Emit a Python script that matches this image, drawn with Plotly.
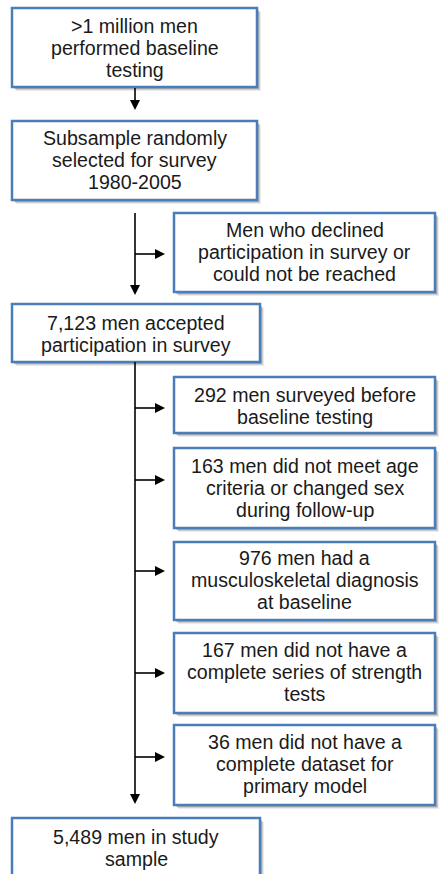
import plotly.graph_objects as go

# ---- content (data) ----
box_texts = [
    [">1 million men", "performed baseline", "testing"],
    ["Subsample randomly", "selected for survey", "1980-2005"],
    ["Men who declined", "participation in survey or", "could not be reached"],
    ["7,123 men accepted", "participation in survey"],
    ["292 men surveyed before", "baseline testing"],
    ["163 men did not meet age", "criteria or changed sex", "during follow-up"],
    ["976 men had a", "musculoskeletal diagnosis", "at baseline"],
    ["167 men did not have a", "complete series of strength", "tests"],
    ["36 men did not have a", "complete dataset for", "primary model"],
    ["5,489 men in study", "sample"],
]

# ---- layout (pixel positions: x0, x1, y0, y1) ----
box_x0 = [12, 12, 174, 12, 174, 174, 174, 174, 174, 12]
box_x1 = [257, 257, 435, 260, 435, 435, 435, 435, 435, 260]
box_y0 = [8, 121, 213, 304, 377, 448, 542, 633, 725, 818]
box_y1 = [87, 200, 292, 362, 433, 528, 620, 713, 805, 884]
text_center = [48, 160, 252, 334, 406, 488, 580, 672, 764, 848]

# vertical arrows: x, y_start, y_tip
v_arrows = [(135, 88, 110), (135, 213, 295), (135, 362, 804)]
# horizontal side arrows: y, x_start, x_tip
h_arrows = [(254, 135, 165), (408, 135, 165), (480, 135, 165),
            (571, 135, 165), (673, 135, 165), (757, 135, 165)]

LINE_SP = 21.8
FONT = dict(family="Liberation Sans, Arial, sans-serif", size=19.6, color="#1a1a1a")
BLUE = "#4a7ebb"

shapes = []
annotations = []

for i, lines in enumerate(box_texts):
    x0, x1, y0, y1 = box_x0[i], box_x1[i], box_y0[i], box_y1[i]
    # soft shadow
    for off, op in [(4, 0.08), (3, 0.12), (2, 0.16)]:
        shapes.append(dict(type="rect", x0=x0 + off, x1=x1 + off, y0=y0 + off, y1=y1 + off,
                           line=dict(width=0), fillcolor=f"rgba(0,0,0,{op})", layer="above"))
    shapes.append(dict(type="rect", x0=x0, x1=x1, y0=y0, y1=y1,
                       line=dict(color=BLUE, width=2.5), fillcolor="white", layer="above"))
    n = len(lines)
    cx = (x0 + x1) / 2
    for j, t in enumerate(lines):
        yy = text_center[i] + (j - (n - 1) / 2) * LINE_SP
        annotations.append(dict(x=cx, y=yy, xref="x", yref="y", text=t, showarrow=False,
                                font=FONT, xanchor="center", yanchor="middle"))

AH_L, AH_W = 10, 5
for x, ys, yt in v_arrows:
    shapes.append(dict(type="line", x0=x, x1=x, y0=ys, y1=yt - AH_L + 1,
                       line=dict(color="black", width=1.6), layer="above"))
    shapes.append(dict(type="path",
                       path=f"M {x - AH_W} {yt - AH_L} L {x + AH_W} {yt - AH_L} L {x} {yt} Z",
                       fillcolor="black", line=dict(width=0), layer="above"))
for y, xs, xt in h_arrows:
    shapes.append(dict(type="line", x0=xs, x1=xt - AH_L + 1, y0=y, y1=y,
                       line=dict(color="black", width=1.6), layer="above"))
    shapes.append(dict(type="path",
                       path=f"M {xt - AH_L} {y - AH_W} L {xt - AH_L} {y + AH_W} L {xt} {y} Z",
                       fillcolor="black", line=dict(width=0), layer="above"))

fig = go.Figure()
fig.add_trace(go.Scatter(x=[0, 439], y=[0, 874], mode="markers",
                         marker=dict(opacity=0), hoverinfo="skip", showlegend=False))
fig.update_layout(
    width=439, height=874,
    margin=dict(l=0, r=0, t=0, b=0),
    paper_bgcolor="white", plot_bgcolor="white",
    xaxis=dict(range=[0, 439], visible=False, fixedrange=True),
    yaxis=dict(range=[874, 0], visible=False, fixedrange=True),
    shapes=shapes, annotations=annotations, showlegend=False,
)
fig.write_html("out.html", config={"displayModeBar": False})

# remove default page margin so the figure sits at the window's top-left corner
with open("out.html", "r", encoding="utf-8") as f:
    html = f.read()
html = html.replace("<body>", '<body style="margin:0;padding:0;overflow:hidden">', 1)
with open("out.html", "w", encoding="utf-8") as f:
    f.write(html)
